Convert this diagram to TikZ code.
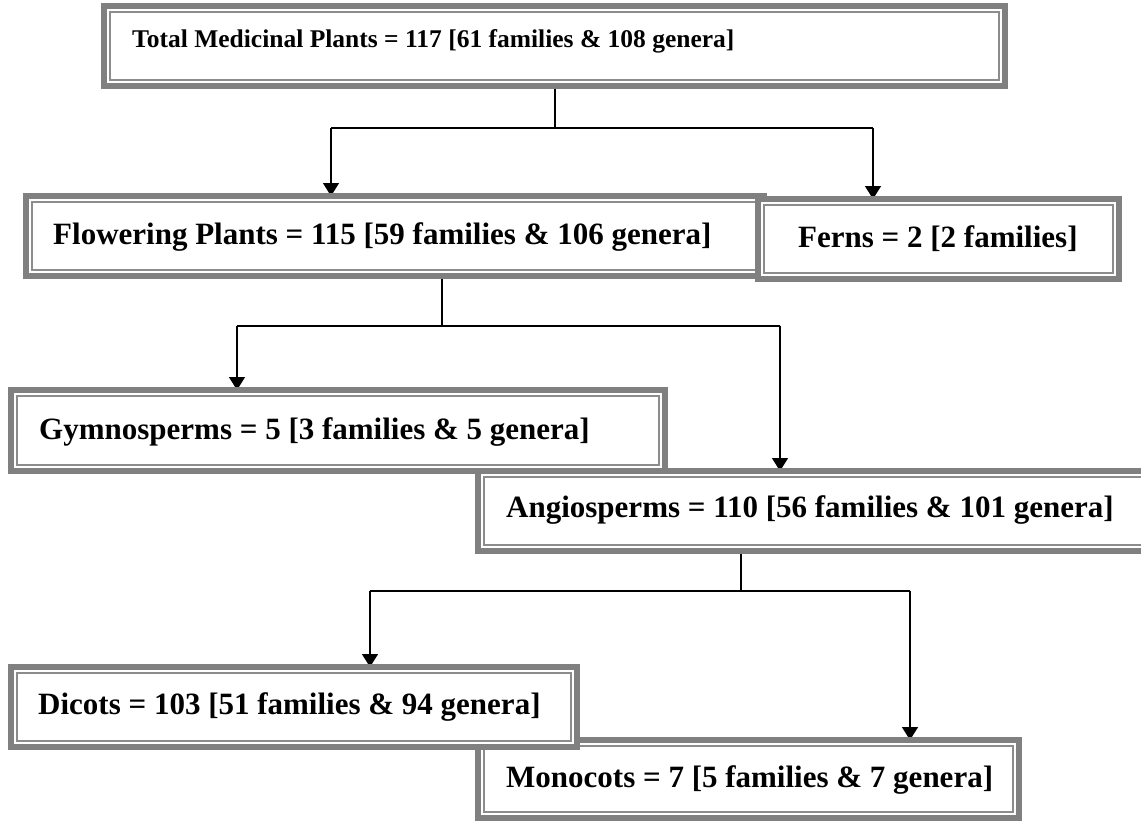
\documentclass[tikz,border=0pt]{standalone}
\usepackage{fontspec}
\setmainfont{Liberation Serif}
\usetikzlibrary{arrows.meta,backgrounds}
\definecolor{bandgray}{RGB}{128,128,128}
\definecolor{linegray}{RGB}{140,140,140}
\tikzset{
  pbox/.style={draw=bandgray, line width=6pt, fill=white, inner sep=0pt, outer sep=0pt, anchor=north west},
  pinner/.style={draw=linegray, line width=2pt},
  lbl/.style={anchor=base west, inner sep=0pt, font=\bfseries\fontsize{31}{31}\selectfont},
  lbltop/.style={anchor=base west, inner sep=0pt, font=\bfseries\fontsize{25.5}{25.5}\selectfont},
  conn/.style={draw=black, line width=1.5pt},
  arr/.style={conn, -{Triangle[width=16pt,length=13pt]}}
}
% name, x, y, width-6, height-6 (outer box x,y and size)
\newcommand\plantbox[5]{%
  \node[pbox, minimum width=#4pt, minimum height=#5pt] (#1) at (#2+3,#3+3) {};
  \draw[pinner] ([shift={(6,6)}]#1.north west) rectangle ([shift={(-6,-6)}]#1.south east);
}
\begin{document}
\begin{tikzpicture}[x=1pt,y=-1pt]
\useasboundingbox (0,0) rectangle (1141,820);
\clip (0,0) rectangle (1141,820);
% boxes
\plantbox{top}{101}{3}{901}{80}
\node[lbltop] (toptxt) at (132,47) {Total Medicinal Plants = 117 [61 families \& 108 genera]};
\plantbox{fl}{23}{193}{738}{80}
\node[lbl] (fltxt) at (53,244) {Flowering Plants = 115 [59 families \& 106 genera]};
\plantbox{fe}{755}{196}{361}{80}
\node[lbl] (fetxt) at (798,247) {Ferns = 2 [2 families]};
\plantbox{an}{475}{468}{700}{80}
\node[lbl] (antxt) at (506,517) {Angiosperms = 110 [56 families \& 101 genera]};
\plantbox{gy}{8}{387}{654}{81}
\node[lbl] (gytxt) at (39,439) {Gymnosperms = 5 [3 families \& 5 genera]};
\plantbox{mo}{475}{737}{541}{78}
\node[lbl] (motxt) at (506,787) {Monocots = 7 [5 families \& 7 genera]};
\plantbox{di}{8}{664}{566}{80}
\node[lbl] (ditxt) at (38,714) {Dicots = 103 [51 families \& 94 genera]};
% junction coordinates
\coordinate (j1) at (555,128);
\coordinate (j1l) at (331,128);
\coordinate (j1r) at (873,128);
\coordinate (j2) at (442,326);
\coordinate (j2l) at (237,326);
\coordinate (j2r) at (780,326);
\coordinate (j3) at (741,591);
\coordinate (j3l) at (370,591);
\coordinate (j3r) at (910,591);
\begin{pgfonlayer}{background}
\draw[conn] (top.south -| j1) -- (j1);
\draw[conn] (j1l) -- (j1r);
\draw[arr] (j1l) -- (j1l |- fl.north);
\draw[arr] (j1r) -- (j1r |- fe.north);
\draw[conn] (fl.south -| j2) -- (j2);
\draw[conn] (j2l) -- (j2r);
\draw[arr] (j2l) -- (j2l |- gy.north);
\draw[arr] (j2r) -- (j2r |- an.north);
\draw[conn] (an.south -| j3) -- (j3);
\draw[conn] (j3l) -- (j3r);
\draw[arr] (j3l) -- (j3l |- di.north);
\draw[arr] (j3r) -- (j3r |- mo.north);
\end{pgfonlayer}
\end{tikzpicture}
\end{document}
